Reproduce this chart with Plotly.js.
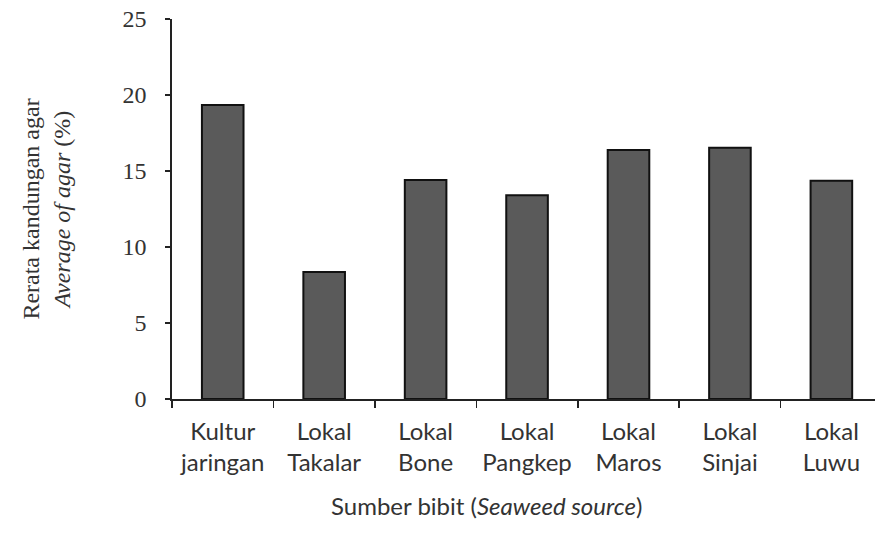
<!DOCTYPE html>
<html>
<head>
<meta charset="utf-8">
<script src="https://cdn.plot.ly/plotly-3.0.1.min.js"></script>
<style>html,body{margin:0;padding:0;background:#fff;}#chart{width:875px;height:545px;}</style>
</head>
<body>
<div id="chart"></div>
<script>
var categories = ["Kultur<br>jaringan", "Lokal<br>Takalar", "Lokal<br>Bone", "Lokal<br>Pangkep", "Lokal<br>Maros", "Lokal<br>Sinjai", "Lokal<br>Luwu"];
var agarValues = [19.35, 8.36, 14.4, 13.41, 16.38, 16.53, 14.36];
var yTickValues = [0, 5, 10, 15, 20, 25];
var xTitle = "Sumber bibit (<i>Seaweed source</i>)";
var yTitle = "Rerata kandungan agar<br><i>Average of agar</i> (%)";

var sansFont = "Lato, 'Open Sans', sans-serif";
var serifFont = "'Liberation Serif', 'DejaVu Serif', serif";

var trace = {
  type: "bar",
  x: categories,
  y: agarValues,
  width: 0.41,
  marker: {color: "#5a5a5a", line: {color: "#111", width: 2}},
  hoverinfo: "none"
};

var layout = {
  width: 875, height: 545,
  margin: {l: 172, r: 0, t: 19, b: 146},
  paper_bgcolor: "#fff", plot_bgcolor: "#fff",
  showlegend: false,
  xaxis: {
    type: "category",
    range: [-0.5, 6.43],
    tickson: "boundaries",
    tickangle: 0,
    ticks: "outside", ticklen: 7, tickwidth: 1.5, tickcolor: "#222",
    ticklabelstandoff: 10,
    showline: true, linecolor: "#222", linewidth: 1.8,
    showgrid: false, zeroline: false,
    tickfont: {family: sansFont, size: 24, color: "#333"},
    automargin: false
  },
  yaxis: {
    range: [0, 25],
    tickvals: yTickValues,
    ticks: "outside", ticklen: 5, tickwidth: 1.5, tickcolor: "#222",
    ticklabelstandoff: 14,
    showline: true, linecolor: "#222", linewidth: 1.8,
    showgrid: false, zeroline: false,
    tickfont: {family: serifFont, size: 24, color: "#333"},
    title: {text: yTitle, font: {family: serifFont, size: 24, color: "#333"}, standoff: 45},
    automargin: false
  },
  annotations: [{
    text: xTitle, xref: "paper", yref: "paper",
    x: (486 - 172) / 703, y: -(505 - 398.5) / 379.5,
    xanchor: "center", yanchor: "middle", showarrow: false,
    font: {family: sansFont, size: 24, color: "#333"}
  }]
};

Plotly.newPlot("chart", [trace], layout, {displayModeBar: false, staticPlot: true});
</script>
</body>
</html>
